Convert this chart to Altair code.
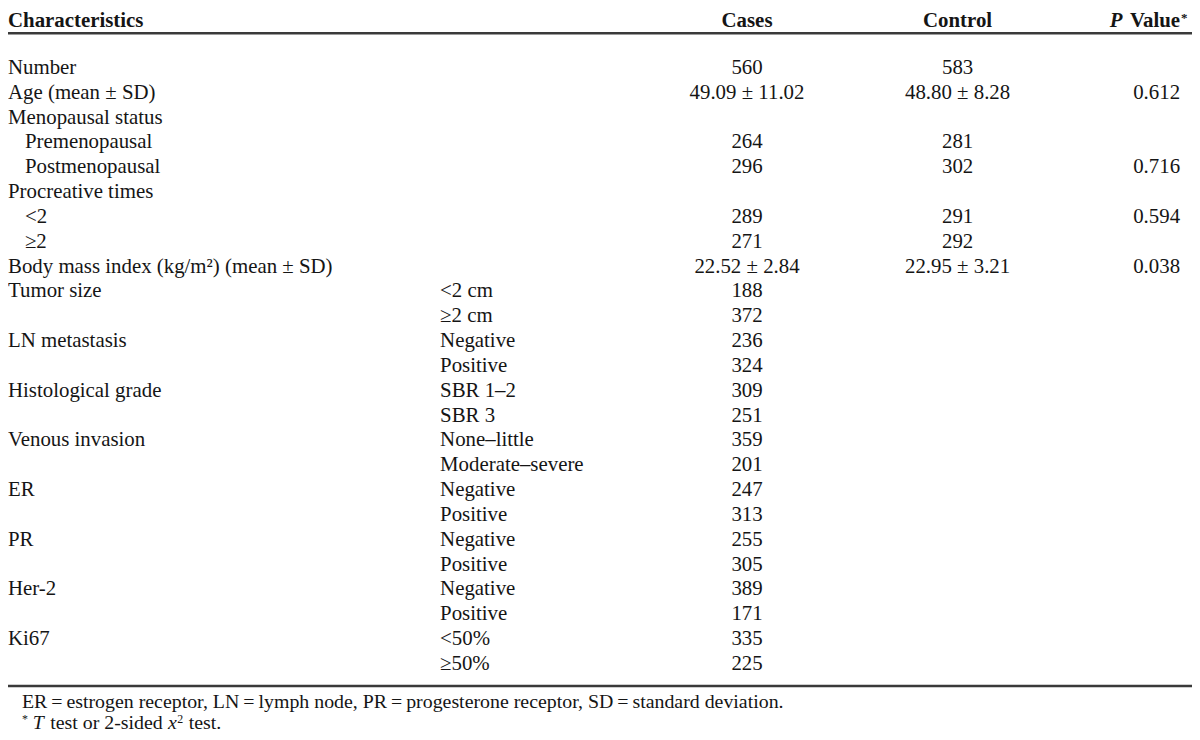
import altair as alt
import pandas as pd

# ---------------- data ----------------
labels = ["Number", "Age (mean ± SD)", "Menopausal status", "Premenopausal", "Postmenopausal",
          "Procreative times", "<2", "≥2", "Body mass index (kg/m²) (mean ± SD)", "Tumor size", "",
          "LN metastasis", "", "Histological grade", "", "Venous invasion", "", "ER", "", "PR", "",
          "Her-2", "", "Ki67", ""]
levels = [0, 0, 0, 1, 1, 0, 1, 1, 0, 0, 0, 0, 0, 0, 0, 0, 0, 0, 0, 0, 0, 0, 0, 0, 0]
subgroups = ["", "", "", "", "", "", "", "", "", "<2 cm", "≥2 cm", "Negative", "Positive",
             "SBR 1–2", "SBR 3", "None–little", "Moderate–severe", "Negative", "Positive",
             "Negative", "Positive", "Negative", "Positive", "<50%", "≥50%"]
cases = ["560", "49.09 ± 11.02", "", "264", "296", "", "289", "271", "22.52 ± 2.84", "188", "372",
         "236", "324", "309", "251", "359", "201", "247", "313", "255", "305", "389", "171", "335", "225"]
control = ["583", "48.80 ± 8.28", "", "281", "302", "", "291", "292", "22.95 ± 3.21"] + [""] * 16
p_values = ["", "0.612", "", "", "0.716", "", "0.594", "", "0.038"] + [""] * 16

header_keys = ["char", "cases", "control", "p", "value", "star"]
header_text = ["Characteristics", "Cases", "Control", "P", "Value", "*"]

footnote_1 = ("ER\u2009=\u2009estrogen receptor, LN\u2009=\u2009lymph node, "
              "PR\u2009=\u2009progesterone receptor, SD\u2009=\u2009standard deviation.")
footnote_2_parts = ["*", "T", "test or 2-sided", "x", "2", "test."]

# ---------------- layout ----------------
W, H = 1192, 724
OFF = 8
FONT = "Liberation Serif"
TXT = "#151515"
FS = 21

df = pd.DataFrame({"row": list(range(len(labels))), "label": labels, "level": levels,
                   "sub": subgroups, "cases": cases, "control": control, "p": p_values})
yscale = alt.Scale(domain=[0, 24], range=[72 - OFF, 672 - OFF])
Y = alt.Y("row:Q", scale=yscale, axis=None)
base = alt.Chart(df)


def col_layer(field, xpos, align, filt=None):
    ch = base
    if filt is not None:
        ch = ch.transform_filter(filt)
    return ch.mark_text(align=align, baseline="alphabetic", font=FONT, fontSize=FS, color=TXT).encode(
        x=alt.value(xpos), y=Y, text=f"{field}:N")


layers = [
    col_layer("label", 0, "left", alt.datum.level == 0),
    col_layer("label", 17, "left", alt.datum.level == 1),
    col_layer("sub", 443 - OFF, "left"),
    col_layer("cases", 752 - OFF, "center"),
    col_layer("control", 964 - OFF, "center"),
    col_layer("p", 1188 - OFF, "right"),
]

hdf = pd.DataFrame({"key": header_keys, "name": header_text})
hbase = alt.Chart(hdf)
HEAD_Y = 17


def head(key, xpos, align, size=FS, style="normal", ypos=HEAD_Y):
    return hbase.transform_filter(alt.datum.key == key).mark_text(
        align=align, baseline="alphabetic", font=FONT, fontSize=size, fontWeight="bold",
        fontStyle=style, color=TXT).encode(x=alt.value(xpos), y=alt.value(ypos), text="name:N")


layers += [
    head("char", 0, "left"),
    head("cases", 752 - OFF, "center"),
    head("control", 964 - OFF, "center"),
    head("p", 1130 - OFF, "right", style="italic"),
    head("value", 1188 - OFF, "right"),
    head("star", 1189 - OFF, "left", size=13, ypos=HEAD_Y - 5),
]

rules = alt.Chart(pd.DataFrame({"r": [-1.64, 24.65]})).mark_rule(strokeWidth=2.5, color="#3a3a3a").encode(
    y=alt.Y("r:Q", scale=yscale, axis=None), x=alt.value(0), x2=alt.value(W))
layers.append(rules)

fdf = pd.DataFrame({"k": ["f1"] + [f"p{i}" for i in range(len(footnote_2_parts))],
                    "t": [footnote_1] + footnote_2_parts})
fbase = alt.Chart(fdf)
FS2 = 20
F1_Y = 710 - OFF
F2_Y = 731 - OFF


def foot(key, xpos, ypos, size=FS2, style="normal"):
    return fbase.transform_filter(alt.datum.k == key).mark_text(
        align="left", baseline="alphabetic", font=FONT, fontSize=size, fontStyle=style, color=TXT).encode(
        x=alt.value(xpos - OFF), y=alt.value(ypos), text="t:N")


layers += [
    foot("f1", 22, F1_Y),
    foot("p0", 22, F2_Y - 6, size=12),
    foot("p1", 33, F2_Y, style="italic"),
    foot("p2", 50.5, F2_Y),
    foot("p3", 169, F2_Y, style="italic"),
    foot("p4", 178.5, F2_Y - 6, size=12),
    foot("p5", 190, F2_Y),
]

chart = alt.layer(*layers).properties(width=W, height=H, padding=0, autosize="none").configure_view(
    stroke=None)

chart.save("out.html", embed_options={"renderer": "svg", "actions": False})
